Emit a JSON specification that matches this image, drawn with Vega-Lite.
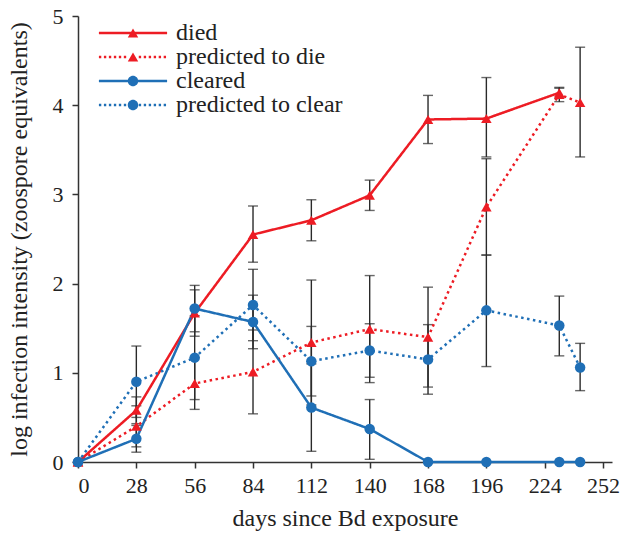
{
  "$schema": "https://vega.github.io/schema/vega-lite/v6.json",
  "width": 534,
  "height": 446,
  "autosize": "none",
  "padding": {"left": 78, "top": 16, "right": 24, "bottom": 71},
  "config": {
    "view": {"stroke": null},
    "font": "Liberation Serif",
    "legend": {"labelFont": "Liberation Serif", "labelFontSize": 24, "labelColor": "#222222", "labelLimit": 400},
    "axis": {
      "grid": false,
      "domainColor": "#333333",
      "domainWidth": 1.5,
      "tickColor": "#333333",
      "tickWidth": 1.5,
      "tickSize": 6,
      "labelFont": "Liberation Serif",
      "labelFontSize": 22,
      "labelColor": "#222222",
      "titleFont": "Liberation Serif",
      "titleFontSize": 24,
      "titleFontWeight": "normal",
      "titleColor": "#222222"
    }
  },
  "data": {
    "values": [
      {"series": "died", "day": 0, "value": 0, "lo": null, "hi": null},
      {"series": "died", "day": 28, "value": 0.58, "lo": 0.43, "hi": 0.73},
      {"series": "died", "day": 56, "value": 1.67, "lo": 1.41, "hi": 1.93},
      {"series": "died", "day": 84, "value": 2.55, "lo": 2.24, "hi": 2.87},
      {"series": "died", "day": 112, "value": 2.71, "lo": 2.48, "hi": 2.94},
      {"series": "died", "day": 140, "value": 2.99, "lo": 2.82, "hi": 3.16},
      {"series": "died", "day": 168, "value": 3.84, "lo": 3.57, "hi": 4.11},
      {"series": "died", "day": 196, "value": 3.85, "lo": 3.42, "hi": 4.31},
      {"series": "died", "day": 231, "value": 4.14, "lo": 4.08, "hi": 4.19},
      {"series": "predicted to die", "day": 0, "value": 0, "lo": null, "hi": null},
      {"series": "predicted to die", "day": 28, "value": 0.4, "lo": 0.17, "hi": 0.63},
      {"series": "predicted to die", "day": 56, "value": 0.88, "lo": 0.59, "hi": 1.17},
      {"series": "predicted to die", "day": 84, "value": 1.01, "lo": 0.54, "hi": 1.48},
      {"series": "predicted to die", "day": 112, "value": 1.34, "lo": 0.64, "hi": 2.04},
      {"series": "predicted to die", "day": 140, "value": 1.49, "lo": 0.89, "hi": 2.09},
      {"series": "predicted to die", "day": 168, "value": 1.4, "lo": 0.84, "hi": 1.96},
      {"series": "predicted to die", "day": 196, "value": 2.86, "lo": 2.32, "hi": 3.4},
      {"series": "predicted to die", "day": 231, "value": 4.12, "lo": 4.04, "hi": 4.2},
      {"series": "predicted to die", "day": 241, "value": 4.03, "lo": 3.42, "hi": 4.65},
      {"series": "cleared", "day": 0, "value": 0, "lo": null, "hi": null},
      {"series": "cleared", "day": 28, "value": 0.26, "lo": 0.11, "hi": 0.41},
      {"series": "cleared", "day": 56, "value": 1.72, "lo": 1.46, "hi": 1.98},
      {"series": "cleared", "day": 84, "value": 1.57, "lo": 1.27, "hi": 1.87},
      {"series": "cleared", "day": 112, "value": 0.61, "lo": 0.12, "hi": 1.1},
      {"series": "cleared", "day": 140, "value": 0.37, "lo": 0.03, "hi": 0.7},
      {"series": "cleared", "day": 168, "value": 0, "lo": null, "hi": null},
      {"series": "cleared", "day": 196, "value": 0, "lo": null, "hi": null},
      {"series": "cleared", "day": 231, "value": 0, "lo": null, "hi": null},
      {"series": "cleared", "day": 241, "value": 0, "lo": null, "hi": null},
      {"series": "predicted to clear", "day": 0, "value": 0, "lo": null, "hi": null},
      {"series": "predicted to clear", "day": 28, "value": 0.9, "lo": 0.5, "hi": 1.3},
      {"series": "predicted to clear", "day": 56, "value": 1.17, "lo": 0.7, "hi": 1.64},
      {"series": "predicted to clear", "day": 84, "value": 1.76, "lo": 1.36, "hi": 2.16},
      {"series": "predicted to clear", "day": 112, "value": 1.13, "lo": 0.74, "hi": 1.52},
      {"series": "predicted to clear", "day": 140, "value": 1.25, "lo": 0.95, "hi": 1.55},
      {"series": "predicted to clear", "day": 168, "value": 1.15, "lo": 0.76, "hi": 1.54},
      {"series": "predicted to clear", "day": 196, "value": 1.7, "lo": 1.07, "hi": 2.32},
      {"series": "predicted to clear", "day": 231, "value": 1.53, "lo": 1.19, "hi": 1.86},
      {"series": "predicted to clear", "day": 241, "value": 1.06, "lo": 0.8, "hi": 1.33}
    ]
  },
  "encoding": {
    "x": {
      "field": "day",
      "type": "quantitative",
      "scale": {"domain": [0, 256.3], "nice": false, "zero": false},
      "axis": {"values": [0, 28, 56, 84, 112, 140, 168, 196, 224, 252], "title": "days since Bd exposure", "labelPadding": 7, "titlePadding": 10}
    }
  },
  "layer": [
    {
      "mark": {"type": "rule", "color": "#2a2a2a", "strokeWidth": 1.4},
      "encoding": {
        "y": {"field": "lo", "type": "quantitative", "scale": {"domain": [0, 5], "nice": false}, "title": "log infection intensity (zoospore equivalents)", "axis": {"values": [0, 1, 2, 3, 4, 5], "format": "d", "labelPadding": 9, "titlePadding": 21}},
        "y2": {"field": "hi"}
      }
    },
    {
      "mark": {"type": "tick", "orient": "horizontal", "color": "#2a2a2a", "size": 10, "thickness": 1.4},
      "encoding": {
        "y": {"field": "lo", "type": "quantitative", "title": "log infection intensity (zoospore equivalents)"}
      }
    },
    {
      "mark": {"type": "tick", "orient": "horizontal", "color": "#2a2a2a", "size": 10, "thickness": 1.4},
      "encoding": {
        "y": {"field": "hi", "type": "quantitative", "title": "log infection intensity (zoospore equivalents)"}
      }
    },
    {
      "mark": {"type": "line", "strokeWidth": 2.5, "strokeCap": "butt"},
      "encoding": {
        "y": {"field": "value", "type": "quantitative", "title": "log infection intensity (zoospore equivalents)"},
        "color": {
          "field": "series",
          "type": "nominal",
          "scale": {"domain": ["died", "predicted to die", "cleared", "predicted to clear"], "range": ["#ed1c24", "#ed1c24", "#1f6fb6", "#1f6fb6"]},
          "legend": {
            "title": null,
            "orient": "none",
            "legendX": 43,
            "legendY": 5,
            "padding": 0,
            "labelFontSize": 24,
            "labelFont": "Liberation Serif",
            "labelColor": "#222222",
            "labelLimit": 400,
            "labelOffset": 31,
            "rowPadding": 0,
            "symbolSize": 110,
            "encode": {
              "symbols": {
                "update": {
                  "shape": {"signal": "(datum.value === 'died' ? 'M-6.5,-0.24H6.5V0.24H-6.5Z' : datum.value === 'cleared' ? 'M-6.5,-0.24H6.5V0.24H-6.5Z' : 'M-6.5,-0.24h0.45v0.48h-0.45ZM-5.55,-0.24h0.45v0.48h-0.45ZM-4.6,-0.24h0.45v0.48h-0.45ZM-3.65,-0.24h0.45v0.48h-0.45ZM-2.7,-0.24h0.45v0.48h-0.45ZM-1.75,-0.24h0.45v0.48h-0.45ZM1.1,-0.24h0.45v0.48h-0.45ZM2.05,-0.24h0.45v0.48h-0.45ZM3,-0.24h0.45v0.48h-0.45ZM3.95,-0.24h0.45v0.48h-0.45ZM4.9,-0.24h0.45v0.48h-0.45ZM5.85,-0.24h0.45v0.48h-0.45Z') + (indexof(datum.value, 'die') >= 0 ? 'M0,-0.866L1,0.866H-1Z' : 'M1,0A1,1,0,1,1,-1,0A1,1,0,1,1,1,0Z')"},
                  "fill": {"signal": "indexof(datum.value, 'die') >= 0 ? '#ed1c24' : '#1f6fb6'"},
                  "stroke": {"value": "transparent"},
                  "strokeWidth": {"value": 0},
                  "opacity": {"value": 1},
                  "fillOpacity": {"value": 1},
                  "strokeOpacity": {"value": 0}
                }
              }
            }
          }
        },
        "strokeDash": {
          "field": "series",
          "type": "nominal",
          "scale": {"domain": ["died", "predicted to die", "cleared", "predicted to clear"], "range": [[1, 0], [2.5, 3.5], [1, 0], [2.5, 3.5]]},
          "legend": null
        }
      }
    },
    {
      "transform": [{"filter": {"field": "series", "oneOf": ["died", "predicted to die"]}}],
      "mark": {"type": "point", "filled": true, "size": 110, "opacity": 1, "shape": "triangle-up"},
      "encoding": {
        "y": {"field": "value", "type": "quantitative", "title": "log infection intensity (zoospore equivalents)"},
        "color": {"field": "series", "type": "nominal", "legend": null}
      }
    },
    {
      "transform": [{"filter": {"field": "series", "oneOf": ["cleared", "predicted to clear"]}}],
      "mark": {"type": "point", "filled": true, "size": 110, "opacity": 1, "shape": "circle"},
      "encoding": {
        "y": {"field": "value", "type": "quantitative", "title": "log infection intensity (zoospore equivalents)"},
        "color": {"field": "series", "type": "nominal", "legend": null}
      }
    }
  ]
}
